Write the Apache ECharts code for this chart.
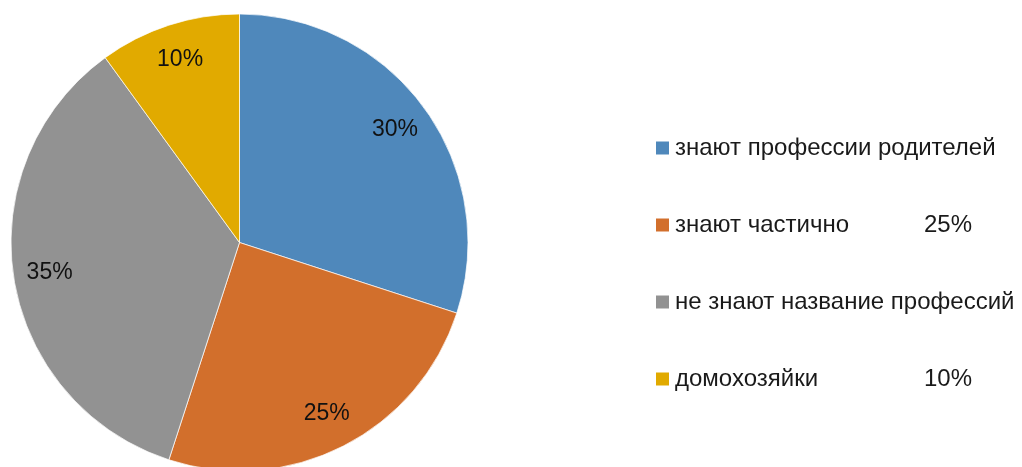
<!DOCTYPE html>
<html>
<head>
<meta charset="utf-8">
<script src="https://cdn.jsdelivr.net/npm/echarts@6/dist/echarts.min.js"></script>
<style>html,body{margin:0;padding:0;background:#fff}#c{width:1022px;height:467px}</style>
</head>
<body>
<div id="c"></div>
<script>
const categories = ["знают профессии родителей", "знают частично", "не знают название профессий", "домохозяйки"];
const values = [30, 25, 35, 10];
const legendPct = ["", "25%", "", "10%"];
const colors = ["#4F88BB", "#D26F2C", "#929292", "#E1AA00"];

const chart = echarts.init(document.getElementById('c'));
const data = categories.map((n, i) => ({ name: n, value: values[i] }));
const FONT = "Liberation Sans";
chart.setOption({
  animation: false,
  color: colors,
  legend: {
    orient: 'vertical',
    left: 649,
    top: 130,
    padding: 5,
    icon: 'rect',
    itemWidth: 15,
    itemHeight: 15,
    itemGap: 51,
    data: categories,
    formatter: function (name) {
      const i = categories.indexOf(name);
      return legendPct[i] ? '{w|' + name + '}{p|' + legendPct[i] + '}' : '{n|' + name + '}';
    },
    textStyle: {
      fontFamily: FONT, fontSize: 24, color: '#1a1a1a', lineHeight: 26,
      rich: {
        n: { fontFamily: FONT, fontSize: 24, color: '#1a1a1a' },
        w: { fontFamily: FONT, fontSize: 24, color: '#1a1a1a', width: 249 },
        p: { fontFamily: FONT, fontSize: 24, color: '#1a1a1a' }
      }
    }
  },
  series: [
    {
      type: 'pie',
      center: [239.5, 242.5],
      radius: [0, 228.5],
      startAngle: 90,
      clockwise: true,
      data: data,
      label: { show: false },
      labelLine: { show: false },
      itemStyle: { borderColor: '#fff', borderWidth: 0.7 },
      emphasis: { disabled: true }
    },
    {
      type: 'pie',
      center: [239.5, 242.5],
      radius: [150, 228.5],
      startAngle: 90,
      clockwise: true,
      data: data,
      silent: true,
      itemStyle: { color: 'rgba(0,0,0,0)' },
      label: {
        show: true, position: 'inside',
        formatter: '{c}%',
        padding: [8, 0, 0, 0],
        fontFamily: FONT, fontSize: 23, color: '#111'
      },
      labelLine: { show: false },
      legendHoverLink: false
    }
  ]
});
</script>
</body>
</html>
